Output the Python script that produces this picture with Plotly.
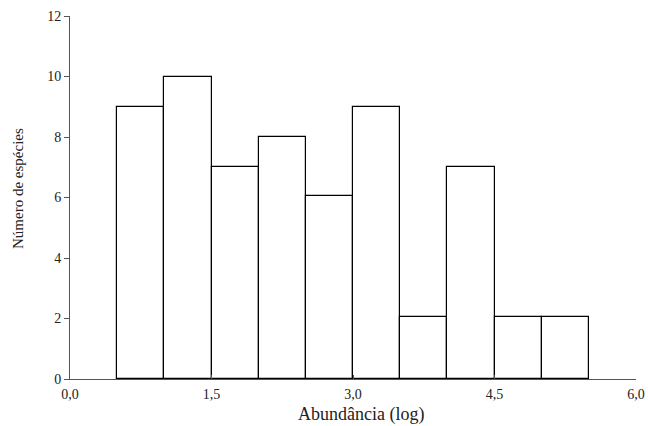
import plotly.graph_objects as go

bin_centers = [0.75, 1.25, 1.75, 2.25, 2.75, 3.25, 3.75, 4.25, 4.75, 5.25]
counts = [9, 10, 7, 8, 6.05, 9, 2.05, 7, 2.05, 2.05]
x_ticks = [0, 1.5, 3.0, 4.5, 6.0]
x_tick_labels = ["0,0", "1,5", "3,0", "4,5", "6,0"]
y_ticks = [0, 2, 4, 6, 8, 10, 12]
x_title = "Abundância (log)"
y_title = "Número de espécies"

fig = go.Figure(go.Bar(
    x=bin_centers, y=counts, width=0.5,
    marker=dict(color="white", line=dict(color="black", width=1.2)),
))

font = dict(family="Liberation Serif", color="#222", size=14)
fig.update_layout(
    width=648, height=426,
    margin=dict(l=70, r=12, t=16, b=47),
    plot_bgcolor="white", paper_bgcolor="white",
    showlegend=False, bargap=0, font=font,
    annotations=[
        dict(text=x_title, xref="paper", yref="paper", x=0.514, y=-0.064,
             xanchor="center", yanchor="top", showarrow=False,
             font=dict(size=18)),
        dict(text=y_title, xref="paper", yref="paper", x=-0.092, y=0.526,
             xanchor="center", yanchor="middle", showarrow=False, textangle=-90,
             font=dict(size=15)),
    ],
)
fig.update_xaxes(
    range=[0, 6], tickvals=x_ticks, ticktext=x_tick_labels, automargin=False,
    showline=True, linecolor="#555", linewidth=1, showgrid=False, zeroline=False,
    ticks="inside", ticklen=4, tickcolor="#555",
    ticklabeloverflow="allow", ticklabelstandoff=2,
)
fig.update_yaxes(
    range=[0, 12], tickvals=y_ticks, automargin=False,
    showline=True, linecolor="#555", linewidth=1, showgrid=False, zeroline=False,
    ticks="outside", ticklen=5, tickcolor="#555",
)
fig.write_html(
    "out.html",
    config={"displayModeBar": False},
    post_script="document.body.style.margin='0';document.body.style.overflow='hidden';",
)
